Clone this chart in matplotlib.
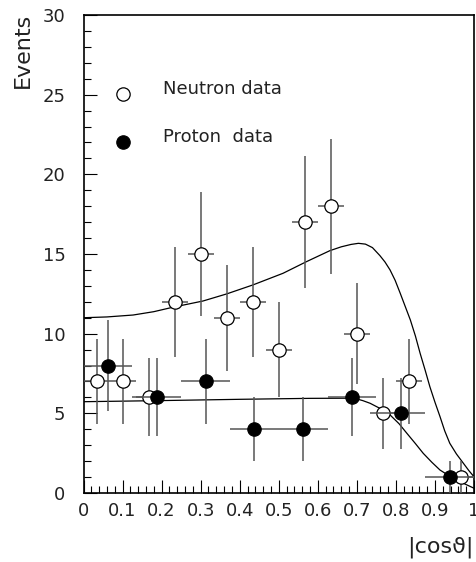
import matplotlib
matplotlib.use("Agg")
import matplotlib.pyplot as plt
import numpy as np
from matplotlib.ticker import MultipleLocator

plt.rcParams['font.family'] = ['DejaVu Sans']

# Neutron data (open circles)
neutron_x = [0.0333, 0.1, 0.1667, 0.2333, 0.3, 0.3667, 0.4333, 0.5, 0.5667, 0.6333, 0.7, 0.7667, 0.8333, 0.9667]
neutron_y = [7, 7, 6, 12, 15, 11, 12, 9, 17, 18, 10, 5, 7, 1]
neutron_xerr = 0.0333

# Proton data (filled circles)
proton_x = [0.0625, 0.1875, 0.3125, 0.4375, 0.5625, 0.6875, 0.8125, 0.9375]
proton_y = [8, 6, 7, 4, 4, 6, 5, 1]
proton_xerr = 0.0625

# Fit curves
neutron_curve_x = [0.0, 0.06, 0.127, 0.18, 0.229, 0.306, 0.366, 0.434, 0.511, 0.571, 0.631,
                   0.66, 0.685, 0.704, 0.722, 0.74, 0.759, 0.772, 0.785, 0.798, 0.811, 0.824,
                   0.837, 0.85, 0.862, 0.875, 0.887, 0.9, 0.913, 0.925, 0.938, 0.955, 0.973,
                   0.987, 1.0]
neutron_curve_y = [11.0, 11.05, 11.17, 11.38, 11.66, 12.05, 12.49, 13.06, 13.79, 14.52, 15.21,
                   15.45, 15.6, 15.67, 15.62, 15.4, 14.9, 14.5, 14.0, 13.35, 12.54, 11.7,
                   10.86, 9.85, 8.77, 7.7, 6.67, 5.7, 4.79, 3.9, 3.12, 2.45, 1.86, 1.4, 1.02]
proton_curve_x = [0.0, 0.2, 0.4, 0.58, 0.68, 0.70, 0.715, 0.734, 0.76, 0.785, 0.808, 0.828,
                  0.85, 0.870, 0.892, 0.913, 0.935, 0.956, 0.978, 1.0]
proton_curve_y = [5.73, 5.8, 5.88, 5.94, 5.95, 5.9, 5.8, 5.63, 5.3, 4.9, 4.35, 3.75,
                  3.1, 2.49, 1.93, 1.44, 1.1, 0.82, 0.55, 0.3]

fig = plt.figure(figsize=(4.76, 5.62), dpi=100)
ax = fig.add_axes([83.5/476, 1-493/562, (474-83.5)/476, (493-15)/562])

ebc = '#555555'
ax.plot(neutron_curve_x, neutron_curve_y, color='black', lw=0.9, zorder=2)
ax.plot(proton_curve_x, proton_curve_y, color='black', lw=0.9, zorder=2)

ax.errorbar(neutron_x, neutron_y, xerr=neutron_xerr, yerr=np.sqrt(neutron_y), fmt='o',
            mfc='white', mec='black', mew=0.9, ms=9.6, ecolor=ebc, elinewidth=1.1,
            capsize=0, zorder=3)
ax.errorbar(proton_x, proton_y, xerr=proton_xerr, yerr=np.sqrt(proton_y), fmt='o',
            mfc='black', mec='black', mew=0.9, ms=9.6, ecolor=ebc, elinewidth=1.1,
            capsize=0, zorder=4)

ax.set_xlim(0, 1)
ax.set_ylim(0, 30)
ax.xaxis.set_minor_locator(MultipleLocator(0.02))
ax.yaxis.set_major_locator(MultipleLocator(5))
ax.yaxis.set_minor_locator(MultipleLocator(1))
ax.set_xticks(np.arange(0, 1.01, 0.1))
ax.set_xticklabels(['0', '0.1', '0.2', '0.3', '0.4', '0.5', '0.6', '0.7', '0.8', '0.9', '1'])
ax.tick_params(which='major', direction='in', length=9.4, width=0.8, labelsize=13,
               top=False, right=False, labelcolor='#222222')
ax.tick_params(axis='x', which='major', pad=6.5)
ax.tick_params(axis='y', which='major', pad=13)
ax.tick_params(which='minor', direction='in', length=5, width=0.8, top=False, right=False)
for s in ax.spines.values():
    s.set_linewidth(1.2)

# Legend
ax.plot([0.101], [0.835], 'o', transform=ax.transAxes, mfc='white', mec='black', mew=0.9,
        ms=9.6, clip_on=False)
ax.plot([0.101], [0.734], 'o', transform=ax.transAxes, mfc='black', mec='black', mew=0.9,
        ms=9.6, clip_on=False)
ax.text(0.204, 0.846, 'Neutron data', transform=ax.transAxes, fontsize=13, va='center',
        color='#222222')
ax.text(0.204, 0.745, 'Proton  data', transform=ax.transAxes, fontsize=13, va='center',
        color='#222222')

fig.text(23/476, 1-13/562, 'Events', rotation=90, ha='center', va='top', fontsize=16,
         color='#222222')
fig.text(474/476, 1-558/562, '|cos\u03d1|', ha='right', va='bottom', fontsize=16,
         color='#222222')

fig.savefig('out.png', dpi=100)
